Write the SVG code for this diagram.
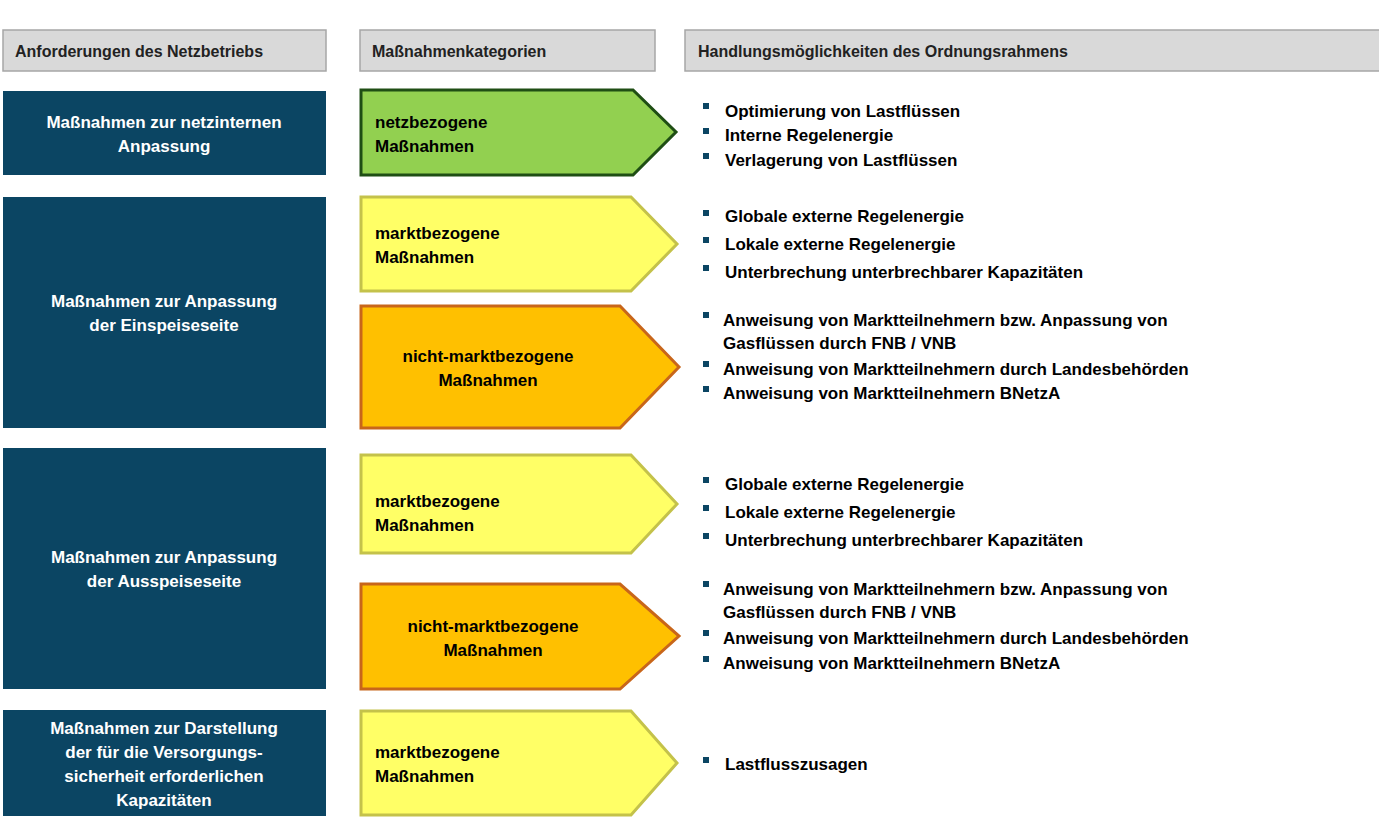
<svg xmlns="http://www.w3.org/2000/svg" width="1379" height="839" viewBox="0 0 1379 839">
<style>
text{font-family:"Liberation Sans",Arial,sans-serif;font-weight:bold;font-size:17px;fill:#000}
.hd{fill:#d9d9d9;stroke:#a6a6a6;stroke-width:1.5}
.hdt{font-size:16px;fill:#222}
.lb{fill:#0b4563}
.lt{fill:#fff;text-anchor:middle}
.g{fill:#92d050;stroke:#1f4e14;stroke-width:3}
.y{fill:#ffff66;stroke:#c4c24a;stroke-width:3}
.o{fill:#ffc000;stroke:#c8661a;stroke-width:3}
.b{fill:#0b4563}
.c{text-anchor:middle}
</style>
<rect width="1379" height="839" fill="#fff"/>
<g id="headers">
<rect class="hd" x="3" y="30" width="323" height="41"/><text class="hdt" x="15" y="57">Anforderungen  des  Netzbetriebs</text>
<rect class="hd" x="360" y="30" width="295" height="41"/><text class="hdt" x="372" y="57">Maßnahmenkategorien</text>
<rect class="hd" x="685" y="30" width="700" height="41"/><text class="hdt" x="698" y="57">Handlungsmöglichkeiten  des  Ordnungsrahmens</text>
</g>
<g id="req1"><rect class="lb" x="3" y="91" width="323" height="84"/><text class="lt" x="164" y="128">Maßnahmen zur netzinternen</text><text class="lt" x="164" y="152">Anpassung</text></g>
<g id="req2"><rect class="lb" x="3" y="197" width="323" height="231"/><text class="lt" x="164" y="307">Maßnahmen zur Anpassung</text><text class="lt" x="164" y="331">der Einspeiseseite</text></g>
<g id="req3"><rect class="lb" x="3" y="448" width="323" height="241"/><text class="lt" x="164" y="563">Maßnahmen zur Anpassung</text><text class="lt" x="164" y="587">der Ausspeiseseite</text></g>
<g id="req4"><rect class="lb" x="3" y="710" width="323" height="106"/><text class="lt" x="164" y="734">Maßnahmen zur Darstellung</text><text class="lt" x="164" y="758">der für die Versorgungs-</text><text class="lt" x="164" y="782">sicherheit erforderlichen</text><text class="lt" x="164" y="806">Kapazitäten</text></g>
<g id="cat1"><polygon class="g" points="361,90 633,90 676,132 633,175 361,175"/><text x="375" y="128">netzbezogene</text><text x="375" y="152">Maßnahmen</text></g>
<g id="cat2"><polygon class="y" points="361,197 631,197 677,244 631,291 361,291"/><text x="375" y="239">marktbezogene</text><text x="375" y="263">Maßnahmen</text></g>
<g id="cat3"><polygon class="o" points="361,306 620,306 679,367 620,428 361,428"/><text class="c" x="488" y="362">nicht-marktbezogene</text><text class="c" x="488" y="386">Maßnahmen</text></g>
<g id="cat4"><polygon class="y" points="361,455 631,455 677,504 631,553 361,553"/><text x="375" y="507">marktbezogene</text><text x="375" y="531">Maßnahmen</text></g>
<g id="cat5"><polygon class="o" points="361,584 620,584 679,636 620,689 361,689"/><text class="c" x="493" y="632">nicht-marktbezogene</text><text class="c" x="493" y="656">Maßnahmen</text></g>
<g id="cat6"><polygon class="y" points="361,711 631,711 677,763 631,815 361,815"/><text x="375" y="758">marktbezogene</text><text x="375" y="782">Maßnahmen</text></g>
<g id="opts">
<rect class="b" x="703" y="103" width="6" height="6"/><text x="725" y="117">Optimierung  von Lastflüssen</text>
<rect class="b" x="703" y="128" width="6" height="6"/><text x="725" y="141">Interne Regelenergie</text>
<rect class="b" x="703" y="153" width="6" height="6"/><text x="725" y="166">Verlagerung  von Lastflüssen</text>
<rect class="b" x="703" y="210" width="6" height="6"/><text x="725" y="222">Globale externe Regelenergie</text>
<rect class="b" x="703" y="237" width="6" height="6"/><text x="725" y="250">Lokale externe Regelenergie</text>
<rect class="b" x="703" y="265" width="6" height="6"/><text x="725" y="278">Unterbrechung  unterbrechbarer Kapazitäten</text>
<rect class="b" x="703" y="312" width="6" height="6"/><text x="723" y="326">Anweisung  von Marktteilnehmern  bzw. Anpassung  von</text><text x="723" y="349">Gasflüssen  durch FNB  / VNB</text>
<rect class="b" x="703" y="361" width="6" height="6"/><text x="723" y="375">Anweisung  von Marktteilnehmern  durch Landesbehörden</text>
<rect class="b" x="703" y="386" width="6" height="6"/><text x="723" y="399">Anweisung  von Marktteilnehmern  BNetzA</text>
<rect class="b" x="703" y="477" width="6" height="6"/><text x="725" y="490">Globale externe Regelenergie</text>
<rect class="b" x="703" y="505" width="6" height="6"/><text x="725" y="518">Lokale externe Regelenergie</text>
<rect class="b" x="703" y="533" width="6" height="6"/><text x="725" y="546">Unterbrechung  unterbrechbarer Kapazitäten</text>
<rect class="b" x="703" y="581" width="6" height="6"/><text x="723" y="595">Anweisung  von Marktteilnehmern  bzw. Anpassung  von</text><text x="723" y="618">Gasflüssen  durch FNB  / VNB</text>
<rect class="b" x="703" y="630" width="6" height="6"/><text x="723" y="644">Anweisung  von Marktteilnehmern  durch Landesbehörden</text>
<rect class="b" x="703" y="656" width="6" height="6"/><text x="723" y="669">Anweisung  von Marktteilnehmern  BNetzA</text>
<rect class="b" x="703" y="757" width="6" height="6"/><text x="725" y="770">Lastflusszusagen</text>
</g>
<g id="connectors"></g>
</svg>
